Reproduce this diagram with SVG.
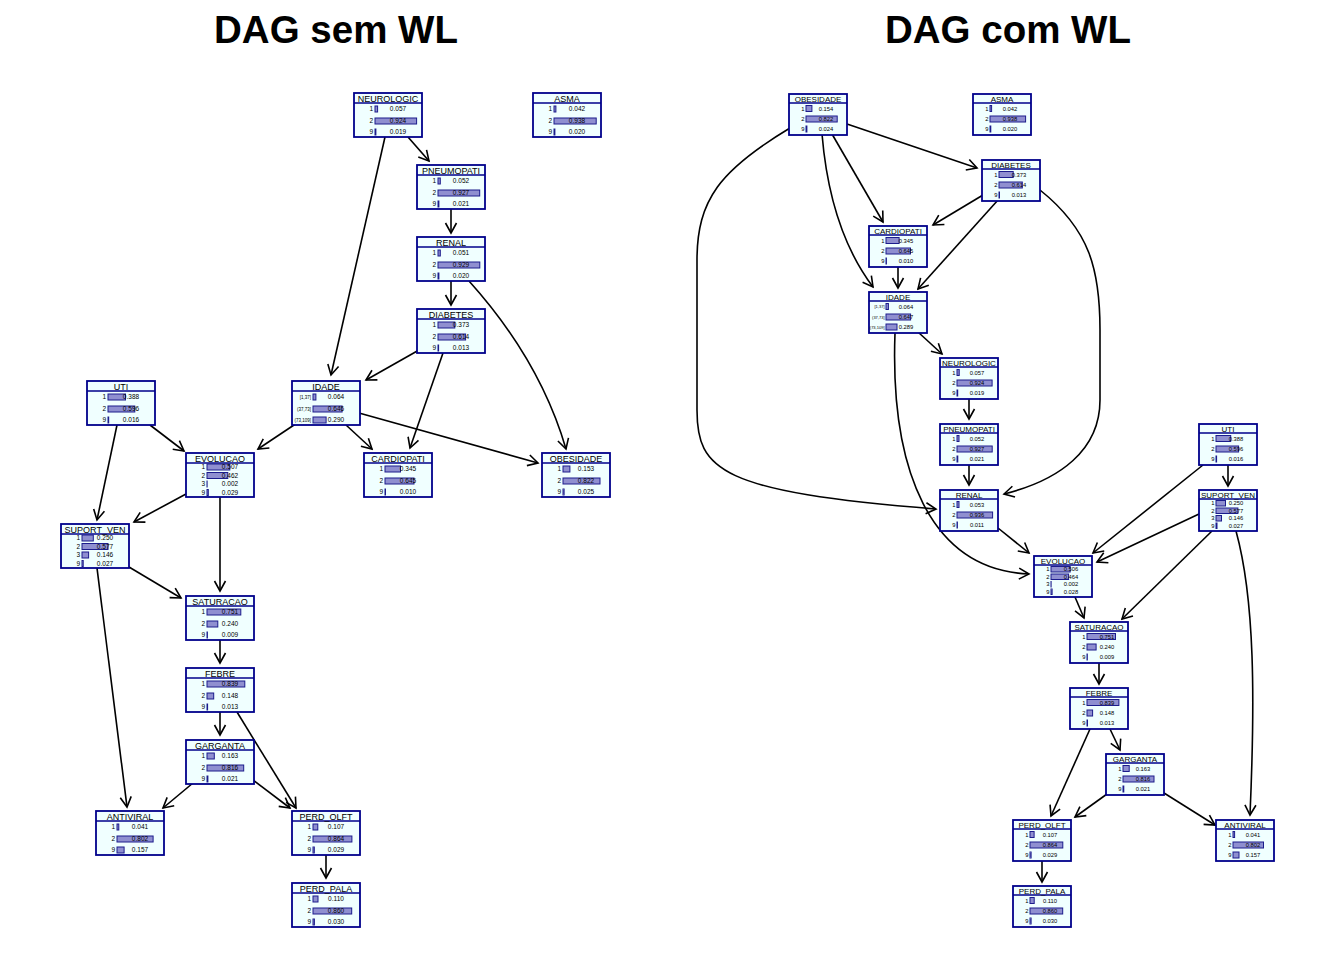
<svg xmlns="http://www.w3.org/2000/svg" width="1344" height="960" viewBox="0 0 1344 960">
<style>
.bg{fill:#fff}
.box{fill:#F0FFFF;stroke:#00008B;stroke-width:1.8}
.hd{stroke:#00008B;stroke-width:1.6}
.bar{fill:#8F8FD0;stroke:#1C1C8C;stroke-width:1}
text{font-family:"Liberation Sans",Arial,sans-serif;fill:#000}
.nm{text-anchor:middle}
.lb{text-anchor:end}
.vl{text-anchor:middle}
.nL{font-size:9px}
.nR{font-size:8px}
.tL{font-size:6.5px}
.tR{font-size:5.8px}
.iL{font-size:4.5px}
.iR{font-size:4px}
.title{font-size:38.5px;font-weight:bold;text-anchor:middle}
.edge{fill:none;stroke:#000;stroke-width:1.6;marker-end:url(#ah)}
</style>
<defs>
<marker id="ah" viewBox="-12 -8 14 16" refX="0" refY="0" markerWidth="14" markerHeight="16" markerUnits="userSpaceOnUse" orient="auto">
<path d="M-10,-5.5 L0,0 L-10,5.5" fill="none" stroke="#000" stroke-width="1.6"/>
</marker>
</defs>
<rect class="bg" width="1344" height="960"/>
<text class="title" x="336" y="43">DAG sem WL</text>
<text class="title" x="1008" y="43">DAG com WL</text>

<g id="connectors">
<path class="edge" d="M408,137 L429,161"/>
<path class="edge" d="M385,137 L331,375"/>
<path class="edge" d="M451,209 L451,233"/>
<path class="edge" d="M451,281 L451,305"/>
<path class="edge" d="M469,281 Q540,360 566,449"/>
<path class="edge" d="M419,350 L366,380"/>
<path class="edge" d="M443,353 L410,448"/>
<path class="edge" d="M300,421 L258,449"/>
<path class="edge" d="M346,425 L372,449"/>
<path class="edge" d="M359,413 L538,463"/>
<path class="edge" d="M150,425 L184,451"/>
<path class="edge" d="M117,425 L97,520"/>
<path class="edge" d="M186,494 L134,522"/>
<path class="edge" d="M220,497 L220,591"/>
<path class="edge" d="M129,567 L181,598"/>
<path class="edge" d="M97,568 L127,807"/>
<path class="edge" d="M220,640 L220,663"/>
<path class="edge" d="M220,712 L220,735"/>
<path class="edge" d="M237,712 L296,808"/>
<path class="edge" d="M193,783 L163,808"/>
<path class="edge" d="M253,780 L290,808"/>
<path class="edge" d="M326,855 L326,878"/>

<path class="edge" d="M847,124 L977,168"/>
<path class="edge" d="M832,134 L883,222"/>
<path class="edge" d="M822,134 Q830,230 873,287"/>
<path class="edge" d="M790,128 C720,170 697,200 697,260 L697,410 C697,470 720,492 936,509"/>
<path class="edge" d="M983,195 L933,225"/>
<path class="edge" d="M998,200 L918,289"/>
<path class="edge" d="M1040,190 C1090,230 1100,270 1100,330 L1100,400 C1100,450 1060,480 1004,494"/>
<path class="edge" d="M898,266 L898,288"/>
<path class="edge" d="M918,332 L942,354"/>
<path class="edge" d="M895,333 C890,470 930,570 1029,574"/>
<path class="edge" d="M969,398 L969,419"/>
<path class="edge" d="M969,464 L969,485"/>
<path class="edge" d="M998,528 L1029,553"/>
<path class="edge" d="M1228,465 L1228,486"/>
<path class="edge" d="M1203,465 L1093,553"/>
<path class="edge" d="M1199,514 L1097,562"/>
<path class="edge" d="M1212,531 L1122,619"/>
<path class="edge" d="M1236,531 C1255,600 1255,700 1250,815"/>
<path class="edge" d="M1075,597 L1084,618"/>
<path class="edge" d="M1099,662 L1099,684"/>
<path class="edge" d="M1110,729 L1120,750"/>
<path class="edge" d="M1090,729 L1051,816"/>
<path class="edge" d="M1107,794 L1075,817"/>
<path class="edge" d="M1164,793 L1215,825"/>
<path class="edge" d="M1042,861 L1042,882"/>
</g>

<!-- LEFT PANEL -->
<g id="L-NEUROLOGIC" transform="translate(354,93)">
<rect class="box" width="68" height="44"/><line class="hd" x1="0" y1="10" x2="68" y2="10"/>
<text class="nm nL" x="34" y="8.5">NEUROLOGIC</text>
<rect class="bar" x="21" y="13" width="2.6" height="6"/><rect class="bar" x="21" y="25" width="41.6" height="6"/><rect class="bar" x="21" y="36" width="0.9" height="6"/>
<text class="lb tL" x="19" y="18.3">1</text><text class="lb tL" x="19" y="30.3">2</text><text class="lb tL" x="19" y="41.3">9</text>
<text class="vl tL" x="44" y="18.3">0.057</text><text class="vl tL" x="44" y="30.3">0.924</text><text class="vl tL" x="44" y="41.3">0.019</text>
</g>
<g id="L-ASMA" transform="translate(533,93)">
<rect class="box" width="68" height="44"/><line class="hd" x1="0" y1="10" x2="68" y2="10"/>
<text class="nm nL" x="34" y="8.5">ASMA</text>
<rect class="bar" x="21" y="13" width="1.9" height="6"/><rect class="bar" x="21" y="25" width="42.2" height="6"/><rect class="bar" x="21" y="36" width="0.9" height="6"/>
<text class="lb tL" x="19" y="18.3">1</text><text class="lb tL" x="19" y="30.3">2</text><text class="lb tL" x="19" y="41.3">9</text>
<text class="vl tL" x="44" y="18.3">0.042</text><text class="vl tL" x="44" y="30.3">0.938</text><text class="vl tL" x="44" y="41.3">0.020</text>
</g>
<g id="L-PNEUMOPATI" transform="translate(417,165)">
<rect class="box" width="68" height="44"/><line class="hd" x1="0" y1="10" x2="68" y2="10"/>
<text class="nm nL" x="34" y="8.5">PNEUMOPATI</text>
<rect class="bar" x="21" y="13" width="2.3" height="6"/><rect class="bar" x="21" y="25" width="41.7" height="6"/><rect class="bar" x="21" y="36" width="0.9" height="6"/>
<text class="lb tL" x="19" y="18.3">1</text><text class="lb tL" x="19" y="30.3">2</text><text class="lb tL" x="19" y="41.3">9</text>
<text class="vl tL" x="44" y="18.3">0.052</text><text class="vl tL" x="44" y="30.3">0.927</text><text class="vl tL" x="44" y="41.3">0.021</text>
</g>
<g id="L-RENAL" transform="translate(417,237)">
<rect class="box" width="68" height="44"/><line class="hd" x1="0" y1="10" x2="68" y2="10"/>
<text class="nm nL" x="34" y="8.5">RENAL</text>
<rect class="bar" x="21" y="13" width="2.3" height="6"/><rect class="bar" x="21" y="25" width="41.8" height="6"/><rect class="bar" x="21" y="36" width="0.9" height="6"/>
<text class="lb tL" x="19" y="18.3">1</text><text class="lb tL" x="19" y="30.3">2</text><text class="lb tL" x="19" y="41.3">9</text>
<text class="vl tL" x="44" y="18.3">0.051</text><text class="vl tL" x="44" y="30.3">0.929</text><text class="vl tL" x="44" y="41.3">0.020</text>
</g>
<g id="L-DIABETES" transform="translate(417,309)">
<rect class="box" width="68" height="44"/><line class="hd" x1="0" y1="10" x2="68" y2="10"/>
<text class="nm nL" x="34" y="8.5">DIABETES</text>
<rect class="bar" x="21" y="13" width="16.8" height="6"/><rect class="bar" x="21" y="25" width="27.6" height="6"/><rect class="bar" x="21" y="36" width="0.6" height="6"/>
<text class="lb tL" x="19" y="18.3">1</text><text class="lb tL" x="19" y="30.3">2</text><text class="lb tL" x="19" y="41.3">9</text>
<text class="vl tL" x="44" y="18.3">0.373</text><text class="vl tL" x="44" y="30.3">0.614</text><text class="vl tL" x="44" y="41.3">0.013</text>
</g>
<g id="L-UTI" transform="translate(87,381)">
<rect class="box" width="68" height="44"/><line class="hd" x1="0" y1="10" x2="68" y2="10"/>
<text class="nm nL" x="34" y="8.5">UTI</text>
<rect class="bar" x="21" y="13" width="17.5" height="6"/><rect class="bar" x="21" y="25" width="26.8" height="6"/><rect class="bar" x="21" y="36" width="0.7" height="6"/>
<text class="lb tL" x="19" y="18.3">1</text><text class="lb tL" x="19" y="30.3">2</text><text class="lb tL" x="19" y="41.3">9</text>
<text class="vl tL" x="44" y="18.3">0.388</text><text class="vl tL" x="44" y="30.3">0.596</text><text class="vl tL" x="44" y="41.3">0.016</text>
</g>
<g id="L-IDADE" transform="translate(292,381)">
<rect class="box" width="68" height="44"/><line class="hd" x1="0" y1="10" x2="68" y2="10"/>
<text class="nm nL" x="34" y="8.5">IDADE</text>
<rect class="bar" x="21" y="13" width="2.9" height="6"/><rect class="bar" x="21" y="25" width="29.1" height="6"/><rect class="bar" x="21" y="36" width="13.1" height="6"/>
<text class="lb iL" x="19" y="17.8">[1,37]</text><text class="lb iL" x="19" y="29.8">(37,73]</text><text class="lb iL" x="19" y="40.8">(73,109]</text>
<text class="vl tL" x="44" y="18.3">0.064</text><text class="vl tL" x="44" y="30.3">0.646</text><text class="vl tL" x="44" y="41.3">0.290</text>
</g>
<g id="L-EVOLUCAO" transform="translate(186,453)">
<rect class="box" width="68" height="44"/><line class="hd" x1="0" y1="10" x2="68" y2="10"/>
<text class="nm nL" x="34" y="8.5">EVOLUCAO</text>
<rect class="bar" x="21" y="11" width="22.8" height="6"/><rect class="bar" x="21" y="19.5" width="20.8" height="6"/><rect class="bar" x="21" y="28" width="0.1" height="6"/><rect class="bar" x="21" y="36.5" width="1.3" height="6"/>
<text class="lb tL" x="19" y="16.3">1</text><text class="lb tL" x="19" y="24.8">2</text><text class="lb tL" x="19" y="33.3">3</text><text class="lb tL" x="19" y="41.8">9</text>
<text class="vl tL" x="44" y="16.3">0.507</text><text class="vl tL" x="44" y="24.8">0.462</text><text class="vl tL" x="44" y="33.3">0.002</text><text class="vl tL" x="44" y="41.8">0.029</text>
</g>
<g id="L-CARDIOPATI" transform="translate(364,453)">
<rect class="box" width="68" height="44"/><line class="hd" x1="0" y1="10" x2="68" y2="10"/>
<text class="nm nL" x="34" y="8.5">CARDIOPATI</text>
<rect class="bar" x="21" y="13" width="15.5" height="6"/><rect class="bar" x="21" y="25" width="29.0" height="6"/><rect class="bar" x="21" y="36" width="0.5" height="6"/>
<text class="lb tL" x="19" y="18.3">1</text><text class="lb tL" x="19" y="30.3">2</text><text class="lb tL" x="19" y="41.3">9</text>
<text class="vl tL" x="44" y="18.3">0.345</text><text class="vl tL" x="44" y="30.3">0.645</text><text class="vl tL" x="44" y="41.3">0.010</text>
</g>
<g id="L-OBESIDADE" transform="translate(542,453)">
<rect class="box" width="68" height="44"/><line class="hd" x1="0" y1="10" x2="68" y2="10"/>
<text class="nm nL" x="34" y="8.5">OBESIDADE</text>
<rect class="bar" x="21" y="13" width="6.9" height="6"/><rect class="bar" x="21" y="25" width="37.0" height="6"/><rect class="bar" x="21" y="36" width="1.1" height="6"/>
<text class="lb tL" x="19" y="18.3">1</text><text class="lb tL" x="19" y="30.3">2</text><text class="lb tL" x="19" y="41.3">9</text>
<text class="vl tL" x="44" y="18.3">0.153</text><text class="vl tL" x="44" y="30.3">0.822</text><text class="vl tL" x="44" y="41.3">0.025</text>
</g>
<g id="L-SUPORT_VEN" transform="translate(61,524)">
<rect class="box" width="68" height="44"/><line class="hd" x1="0" y1="10" x2="68" y2="10"/>
<text class="nm nL" x="34" y="8.5">SUPORT_VEN</text>
<rect class="bar" x="21" y="11" width="11.3" height="6"/><rect class="bar" x="21" y="19.5" width="26.0" height="6"/><rect class="bar" x="21" y="28" width="6.6" height="6"/><rect class="bar" x="21" y="36.5" width="1.2" height="6"/>
<text class="lb tL" x="19" y="16.3">1</text><text class="lb tL" x="19" y="24.8">2</text><text class="lb tL" x="19" y="33.3">3</text><text class="lb tL" x="19" y="41.8">9</text>
<text class="vl tL" x="44" y="16.3">0.250</text><text class="vl tL" x="44" y="24.8">0.577</text><text class="vl tL" x="44" y="33.3">0.146</text><text class="vl tL" x="44" y="41.8">0.027</text>
</g>
<g id="L-SATURACAO" transform="translate(186,596)">
<rect class="box" width="68" height="44"/><line class="hd" x1="0" y1="10" x2="68" y2="10"/>
<text class="nm nL" x="34" y="8.5">SATURACAO</text>
<rect class="bar" x="21" y="13" width="33.8" height="6"/><rect class="bar" x="21" y="25" width="10.8" height="6"/><rect class="bar" x="21" y="36" width="0.4" height="6"/>
<text class="lb tL" x="19" y="18.3">1</text><text class="lb tL" x="19" y="30.3">2</text><text class="lb tL" x="19" y="41.3">9</text>
<text class="vl tL" x="44" y="18.3">0.751</text><text class="vl tL" x="44" y="30.3">0.240</text><text class="vl tL" x="44" y="41.3">0.009</text>
</g>
<g id="L-FEBRE" transform="translate(186,668)">
<rect class="box" width="68" height="44"/><line class="hd" x1="0" y1="10" x2="68" y2="10"/>
<text class="nm nL" x="34" y="8.5">FEBRE</text>
<rect class="bar" x="21" y="13" width="37.8" height="6"/><rect class="bar" x="21" y="25" width="6.7" height="6"/><rect class="bar" x="21" y="36" width="0.6" height="6"/>
<text class="lb tL" x="19" y="18.3">1</text><text class="lb tL" x="19" y="30.3">2</text><text class="lb tL" x="19" y="41.3">9</text>
<text class="vl tL" x="44" y="18.3">0.839</text><text class="vl tL" x="44" y="30.3">0.148</text><text class="vl tL" x="44" y="41.3">0.013</text>
</g>
<g id="L-GARGANTA" transform="translate(186,740)">
<rect class="box" width="68" height="44"/><line class="hd" x1="0" y1="10" x2="68" y2="10"/>
<text class="nm nL" x="34" y="8.5">GARGANTA</text>
<rect class="bar" x="21" y="13" width="7.3" height="6"/><rect class="bar" x="21" y="25" width="36.7" height="6"/><rect class="bar" x="21" y="36" width="0.9" height="6"/>
<text class="lb tL" x="19" y="18.3">1</text><text class="lb tL" x="19" y="30.3">2</text><text class="lb tL" x="19" y="41.3">9</text>
<text class="vl tL" x="44" y="18.3">0.163</text><text class="vl tL" x="44" y="30.3">0.816</text><text class="vl tL" x="44" y="41.3">0.021</text>
</g>
<g id="L-ANTIVIRAL" transform="translate(96,811)">
<rect class="box" width="68" height="44"/><line class="hd" x1="0" y1="10" x2="68" y2="10"/>
<text class="nm nL" x="34" y="8.5">ANTIVIRAL</text>
<rect class="bar" x="21" y="13" width="1.8" height="6"/><rect class="bar" x="21" y="25" width="36.1" height="6"/><rect class="bar" x="21" y="36" width="7.1" height="6"/>
<text class="lb tL" x="19" y="18.3">1</text><text class="lb tL" x="19" y="30.3">2</text><text class="lb tL" x="19" y="41.3">9</text>
<text class="vl tL" x="44" y="18.3">0.041</text><text class="vl tL" x="44" y="30.3">0.802</text><text class="vl tL" x="44" y="41.3">0.157</text>
</g>
<g id="L-PERD_OLFT" transform="translate(292,811)">
<rect class="box" width="68" height="44"/><line class="hd" x1="0" y1="10" x2="68" y2="10"/>
<text class="nm nL" x="34" y="8.5">PERD_OLFT</text>
<rect class="bar" x="21" y="13" width="4.8" height="6"/><rect class="bar" x="21" y="25" width="38.9" height="6"/><rect class="bar" x="21" y="36" width="1.3" height="6"/>
<text class="lb tL" x="19" y="18.3">1</text><text class="lb tL" x="19" y="30.3">2</text><text class="lb tL" x="19" y="41.3">9</text>
<text class="vl tL" x="44" y="18.3">0.107</text><text class="vl tL" x="44" y="30.3">0.864</text><text class="vl tL" x="44" y="41.3">0.029</text>
</g>
<g id="L-PERD_PALA" transform="translate(292,883)">
<rect class="box" width="68" height="44"/><line class="hd" x1="0" y1="10" x2="68" y2="10"/>
<text class="nm nL" x="34" y="8.5">PERD_PALA</text>
<rect class="bar" x="21" y="13" width="5.0" height="6"/><rect class="bar" x="21" y="25" width="38.7" height="6"/><rect class="bar" x="21" y="36" width="1.4" height="6"/>
<text class="lb tL" x="19" y="18.3">1</text><text class="lb tL" x="19" y="30.3">2</text><text class="lb tL" x="19" y="41.3">9</text>
<text class="vl tL" x="44" y="18.3">0.110</text><text class="vl tL" x="44" y="30.3">0.860</text><text class="vl tL" x="44" y="41.3">0.030</text>
</g>

<!-- RIGHT PANEL -->
<g id="R-OBESIDADE" transform="translate(789,94)">
<rect class="box" width="58" height="41"/><line class="hd" x1="0" y1="9" x2="58" y2="9"/>
<text class="nm nR" x="29" y="7.6">OBESIDADE</text>
<rect class="bar" x="17" y="11.5" width="5.9" height="6"/><rect class="bar" x="17" y="22" width="31.2" height="6"/><rect class="bar" x="17" y="32" width="0.9" height="6"/>
<text class="lb tR" x="15.5" y="16.5">1</text><text class="lb tR" x="15.5" y="27">2</text><text class="lb tR" x="15.5" y="37">9</text>
<text class="vl tR" x="37" y="16.5">0.154</text><text class="vl tR" x="37" y="27">0.822</text><text class="vl tR" x="37" y="37">0.024</text>
</g>
<g id="R-ASMA" transform="translate(973,94)">
<rect class="box" width="58" height="41"/><line class="hd" x1="0" y1="9" x2="58" y2="9"/>
<text class="nm nR" x="29" y="7.6">ASMA</text>
<rect class="bar" x="17" y="11.5" width="1.6" height="6"/><rect class="bar" x="17" y="22" width="35.6" height="6"/><rect class="bar" x="17" y="32" width="0.8" height="6"/>
<text class="lb tR" x="15.5" y="16.5">1</text><text class="lb tR" x="15.5" y="27">2</text><text class="lb tR" x="15.5" y="37">9</text>
<text class="vl tR" x="37" y="16.5">0.042</text><text class="vl tR" x="37" y="27">0.938</text><text class="vl tR" x="37" y="37">0.020</text>
</g>
<g id="R-DIABETES" transform="translate(982,160)">
<rect class="box" width="58" height="41"/><line class="hd" x1="0" y1="9" x2="58" y2="9"/>
<text class="nm nR" x="29" y="7.6">DIABETES</text>
<rect class="bar" x="17" y="11.5" width="14.2" height="6"/><rect class="bar" x="17" y="22" width="23.3" height="6"/><rect class="bar" x="17" y="32" width="0.5" height="6"/>
<text class="lb tR" x="15.5" y="16.5">1</text><text class="lb tR" x="15.5" y="27">2</text><text class="lb tR" x="15.5" y="37">9</text>
<text class="vl tR" x="37" y="16.5">0.373</text><text class="vl tR" x="37" y="27">0.614</text><text class="vl tR" x="37" y="37">0.013</text>
</g>
<g id="R-CARDIOPATI" transform="translate(869,226)">
<rect class="box" width="58" height="41"/><line class="hd" x1="0" y1="9" x2="58" y2="9"/>
<text class="nm nR" x="29" y="7.6">CARDIOPATI</text>
<rect class="bar" x="17" y="11.5" width="13.1" height="6"/><rect class="bar" x="17" y="22" width="24.5" height="6"/><rect class="bar" x="17" y="32" width="0.4" height="6"/>
<text class="lb tR" x="15.5" y="16.5">1</text><text class="lb tR" x="15.5" y="27">2</text><text class="lb tR" x="15.5" y="37">9</text>
<text class="vl tR" x="37" y="16.5">0.345</text><text class="vl tR" x="37" y="27">0.645</text><text class="vl tR" x="37" y="37">0.010</text>
</g>
<g id="R-IDADE" transform="translate(869,292)">
<rect class="box" width="58" height="41"/><line class="hd" x1="0" y1="9" x2="58" y2="9"/>
<text class="nm nR" x="29" y="7.6">IDADE</text>
<rect class="bar" x="17" y="11.5" width="2.4" height="6"/><rect class="bar" x="17" y="22" width="24.6" height="6"/><rect class="bar" x="17" y="32" width="11.0" height="6"/>
<text class="lb iR" x="15.5" y="16">[1,37]</text><text class="lb iR" x="15.5" y="26.5">(37,73]</text><text class="lb iR" x="15.5" y="36.5">(73,109]</text>
<text class="vl tR" x="37" y="16.5">0.064</text><text class="vl tR" x="37" y="27">0.647</text><text class="vl tR" x="37" y="37">0.289</text>
</g>
<g id="R-NEUROLOGIC" transform="translate(940,358)">
<rect class="box" width="58" height="41"/><line class="hd" x1="0" y1="9" x2="58" y2="9"/>
<text class="nm nR" x="29" y="7.6">NEUROLOGIC</text>
<rect class="bar" x="17" y="11.5" width="2.2" height="6"/><rect class="bar" x="17" y="22" width="35.1" height="6"/><rect class="bar" x="17" y="32" width="0.7" height="6"/>
<text class="lb tR" x="15.5" y="16.5">1</text><text class="lb tR" x="15.5" y="27">2</text><text class="lb tR" x="15.5" y="37">9</text>
<text class="vl tR" x="37" y="16.5">0.057</text><text class="vl tR" x="37" y="27">0.924</text><text class="vl tR" x="37" y="37">0.019</text>
</g>
<g id="R-PNEUMOPATI" transform="translate(940,424)">
<rect class="box" width="58" height="41"/><line class="hd" x1="0" y1="9" x2="58" y2="9"/>
<text class="nm nR" x="29" y="7.6">PNEUMOPATI</text>
<rect class="bar" x="17" y="11.5" width="2.0" height="6"/><rect class="bar" x="17" y="22" width="35.2" height="6"/><rect class="bar" x="17" y="32" width="0.8" height="6"/>
<text class="lb tR" x="15.5" y="16.5">1</text><text class="lb tR" x="15.5" y="27">2</text><text class="lb tR" x="15.5" y="37">9</text>
<text class="vl tR" x="37" y="16.5">0.052</text><text class="vl tR" x="37" y="27">0.927</text><text class="vl tR" x="37" y="37">0.021</text>
</g>
<g id="R-RENAL" transform="translate(940,490)">
<rect class="box" width="58" height="41"/><line class="hd" x1="0" y1="9" x2="58" y2="9"/>
<text class="nm nR" x="29" y="7.6">RENAL</text>
<rect class="bar" x="17" y="11.5" width="2.0" height="6"/><rect class="bar" x="17" y="22" width="35.6" height="6"/><rect class="bar" x="17" y="32" width="0.4" height="6"/>
<text class="lb tR" x="15.5" y="16.5">1</text><text class="lb tR" x="15.5" y="27">2</text><text class="lb tR" x="15.5" y="37">9</text>
<text class="vl tR" x="37" y="16.5">0.053</text><text class="vl tR" x="37" y="27">0.936</text><text class="vl tR" x="37" y="37">0.011</text>
</g>
<g id="R-UTI" transform="translate(1199,424)">
<rect class="box" width="58" height="41"/><line class="hd" x1="0" y1="9" x2="58" y2="9"/>
<text class="nm nR" x="29" y="7.6">UTI</text>
<rect class="bar" x="17" y="11.5" width="14.7" height="6"/><rect class="bar" x="17" y="22" width="22.6" height="6"/><rect class="bar" x="17" y="32" width="0.6" height="6"/>
<text class="lb tR" x="15.5" y="16.5">1</text><text class="lb tR" x="15.5" y="27">2</text><text class="lb tR" x="15.5" y="37">9</text>
<text class="vl tR" x="37" y="16.5">0.388</text><text class="vl tR" x="37" y="27">0.596</text><text class="vl tR" x="37" y="37">0.016</text>
</g>
<g id="R-SUPORT_VEN" transform="translate(1199,490)">
<rect class="box" width="58" height="41"/><line class="hd" x1="0" y1="9" x2="58" y2="9"/>
<text class="nm nR" x="29" y="7.6">SUPORT_VEN</text>
<rect class="bar" x="17" y="10.5" width="9.5" height="5.5"/><rect class="bar" x="17" y="18" width="21.9" height="5.5"/><rect class="bar" x="17" y="25.5" width="5.5" height="5.5"/><rect class="bar" x="17" y="33" width="1.0" height="5.5"/>
<text class="lb tR" x="15.5" y="15">1</text><text class="lb tR" x="15.5" y="22.5">2</text><text class="lb tR" x="15.5" y="30">3</text><text class="lb tR" x="15.5" y="37.5">9</text>
<text class="vl tR" x="37" y="15">0.250</text><text class="vl tR" x="37" y="22.5">0.577</text><text class="vl tR" x="37" y="30">0.146</text><text class="vl tR" x="37" y="37.5">0.027</text>
</g>
<g id="R-EVOLUCAO" transform="translate(1034,556)">
<rect class="box" width="58" height="41"/><line class="hd" x1="0" y1="9" x2="58" y2="9"/>
<text class="nm nR" x="29" y="7.6">EVOLUCAO</text>
<rect class="bar" x="17" y="10.5" width="19.2" height="5.5"/><rect class="bar" x="17" y="18" width="17.6" height="5.5"/><rect class="bar" x="17" y="25.5" width="0.1" height="5.5"/><rect class="bar" x="17" y="33" width="1.1" height="5.5"/>
<text class="lb tR" x="15.5" y="15">1</text><text class="lb tR" x="15.5" y="22.5">2</text><text class="lb tR" x="15.5" y="30">3</text><text class="lb tR" x="15.5" y="37.5">9</text>
<text class="vl tR" x="37" y="15">0.506</text><text class="vl tR" x="37" y="22.5">0.464</text><text class="vl tR" x="37" y="30">0.002</text><text class="vl tR" x="37" y="37.5">0.028</text>
</g>
<g id="R-SATURACAO" transform="translate(1070,622)">
<rect class="box" width="58" height="41"/><line class="hd" x1="0" y1="9" x2="58" y2="9"/>
<text class="nm nR" x="29" y="7.6">SATURACAO</text>
<rect class="bar" x="17" y="11.5" width="28.5" height="6"/><rect class="bar" x="17" y="22" width="9.1" height="6"/><rect class="bar" x="17" y="32" width="0.3" height="6"/>
<text class="lb tR" x="15.5" y="16.5">1</text><text class="lb tR" x="15.5" y="27">2</text><text class="lb tR" x="15.5" y="37">9</text>
<text class="vl tR" x="37" y="16.5">0.751</text><text class="vl tR" x="37" y="27">0.240</text><text class="vl tR" x="37" y="37">0.009</text>
</g>
<g id="R-FEBRE" transform="translate(1070,688)">
<rect class="box" width="58" height="41"/><line class="hd" x1="0" y1="9" x2="58" y2="9"/>
<text class="nm nR" x="29" y="7.6">FEBRE</text>
<rect class="bar" x="17" y="11.5" width="31.9" height="6"/><rect class="bar" x="17" y="22" width="5.6" height="6"/><rect class="bar" x="17" y="32" width="0.5" height="6"/>
<text class="lb tR" x="15.5" y="16.5">1</text><text class="lb tR" x="15.5" y="27">2</text><text class="lb tR" x="15.5" y="37">9</text>
<text class="vl tR" x="37" y="16.5">0.839</text><text class="vl tR" x="37" y="27">0.148</text><text class="vl tR" x="37" y="37">0.013</text>
</g>
<g id="R-GARGANTA" transform="translate(1106,754)">
<rect class="box" width="58" height="41"/><line class="hd" x1="0" y1="9" x2="58" y2="9"/>
<text class="nm nR" x="29" y="7.6">GARGANTA</text>
<rect class="bar" x="17" y="11.5" width="6.2" height="6"/><rect class="bar" x="17" y="22" width="31.0" height="6"/><rect class="bar" x="17" y="32" width="0.8" height="6"/>
<text class="lb tR" x="15.5" y="16.5">1</text><text class="lb tR" x="15.5" y="27">2</text><text class="lb tR" x="15.5" y="37">9</text>
<text class="vl tR" x="37" y="16.5">0.163</text><text class="vl tR" x="37" y="27">0.816</text><text class="vl tR" x="37" y="37">0.021</text>
</g>
<g id="R-PERD_OLFT" transform="translate(1013,820)">
<rect class="box" width="58" height="41"/><line class="hd" x1="0" y1="9" x2="58" y2="9"/>
<text class="nm nR" x="29" y="7.6">PERD_OLFT</text>
<rect class="bar" x="17" y="11.5" width="4.1" height="6"/><rect class="bar" x="17" y="22" width="32.8" height="6"/><rect class="bar" x="17" y="32" width="1.1" height="6"/>
<text class="lb tR" x="15.5" y="16.5">1</text><text class="lb tR" x="15.5" y="27">2</text><text class="lb tR" x="15.5" y="37">9</text>
<text class="vl tR" x="37" y="16.5">0.107</text><text class="vl tR" x="37" y="27">0.864</text><text class="vl tR" x="37" y="37">0.029</text>
</g>
<g id="R-ANTIVIRAL" transform="translate(1216,820)">
<rect class="box" width="58" height="41"/><line class="hd" x1="0" y1="9" x2="58" y2="9"/>
<text class="nm nR" x="29" y="7.6">ANTIVIRAL</text>
<rect class="bar" x="17" y="11.5" width="1.6" height="6"/><rect class="bar" x="17" y="22" width="30.5" height="6"/><rect class="bar" x="17" y="32" width="6.0" height="6"/>
<text class="lb tR" x="15.5" y="16.5">1</text><text class="lb tR" x="15.5" y="27">2</text><text class="lb tR" x="15.5" y="37">9</text>
<text class="vl tR" x="37" y="16.5">0.041</text><text class="vl tR" x="37" y="27">0.802</text><text class="vl tR" x="37" y="37">0.157</text>
</g>
<g id="R-PERD_PALA" transform="translate(1013,886)">
<rect class="box" width="58" height="41"/><line class="hd" x1="0" y1="9" x2="58" y2="9"/>
<text class="nm nR" x="29" y="7.6">PERD_PALA</text>
<rect class="bar" x="17" y="11.5" width="4.2" height="6"/><rect class="bar" x="17" y="22" width="32.7" height="6"/><rect class="bar" x="17" y="32" width="1.1" height="6"/>
<text class="lb tR" x="15.5" y="16.5">1</text><text class="lb tR" x="15.5" y="27">2</text><text class="lb tR" x="15.5" y="37">9</text>
<text class="vl tR" x="37" y="16.5">0.110</text><text class="vl tR" x="37" y="27">0.860</text><text class="vl tR" x="37" y="37">0.030</text>
</g>
</svg>
